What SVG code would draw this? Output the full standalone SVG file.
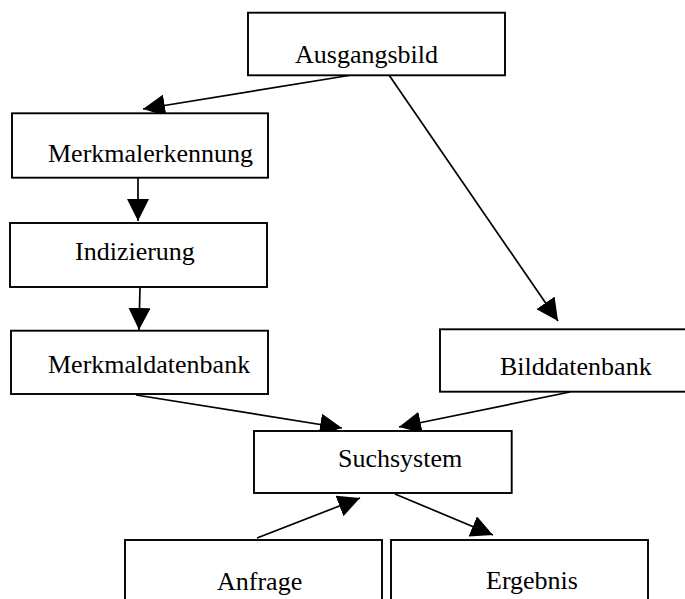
<svg xmlns="http://www.w3.org/2000/svg" width="685" height="599" viewBox="0 0 685 599">
  <style>
    .box { fill: #ffffff; stroke: #000000; stroke-width: 1.9; }
    .lbl { font-family: "Liberation Serif", "Times New Roman", serif; font-size: 26px; fill: #000000; }
    .edge { stroke: #000000; stroke-width: 1.7; fill: none; marker-end: url(#head); }
  </style>
  <defs>
    <marker id="head" markerUnits="userSpaceOnUse" markerWidth="22" markerHeight="22" viewBox="0 0 20 20" refX="20" refY="10" orient="auto">
      <path d="M0,0 L20,10 L0,20 Z" fill="#000000"/>
    </marker>
  </defs>

  <rect width="685" height="599" fill="#ffffff"/>

  <g id="connectors">
    <line class="edge" x1="352" y1="75" x2="143" y2="109"/>
    <line class="edge" x1="389" y1="75" x2="558" y2="321"/>
    <line class="edge" x1="138" y1="178" x2="138" y2="221"/>
    <line class="edge" x1="140" y1="287" x2="139" y2="330"/>
    <line class="edge" x1="136" y1="395" x2="342" y2="428"/>
    <line class="edge" x1="570" y1="392" x2="399" y2="427"/>
    <line class="edge" x1="257" y1="538" x2="360" y2="498"/>
    <line class="edge" x1="395" y1="494" x2="493" y2="535"/>
  </g>

  <g id="ausgangsbild">
    <rect class="box" x="248" y="12.7" width="257" height="62.6"/>
    <text class="lbl" x="295" y="63">Ausgangsbild</text>
  </g>
  <g id="merkmalerkennung">
    <rect class="box" x="12" y="113.3" width="256" height="64.4"/>
    <text class="lbl" x="48" y="162">Merkmalerkennung</text>
  </g>
  <g id="indizierung">
    <rect class="box" x="10" y="223" width="257" height="64"/>
    <text class="lbl" x="75" y="260">Indizierung</text>
  </g>
  <g id="merkmaldatenbank">
    <rect class="box" x="11" y="330.7" width="257" height="63.3"/>
    <text class="lbl" x="48" y="373">Merkmaldatenbank</text>
  </g>
  <g id="bilddatenbank">
    <rect class="box" x="440" y="329.3" width="260" height="62.4"/>
    <text class="lbl" x="500" y="375">Bilddatenbank</text>
  </g>
  <g id="suchsystem">
    <rect class="box" x="254" y="431" width="257.7" height="62"/>
    <text class="lbl" x="338" y="467">Suchsystem</text>
  </g>
  <g id="anfrage">
    <rect class="box" x="125" y="540" width="257" height="64"/>
    <text class="lbl" x="217" y="590">Anfrage</text>
  </g>
  <g id="ergebnis">
    <rect class="box" x="391" y="540" width="257" height="64"/>
    <text class="lbl" x="486" y="589">Ergebnis</text>
  </g>
</svg>
